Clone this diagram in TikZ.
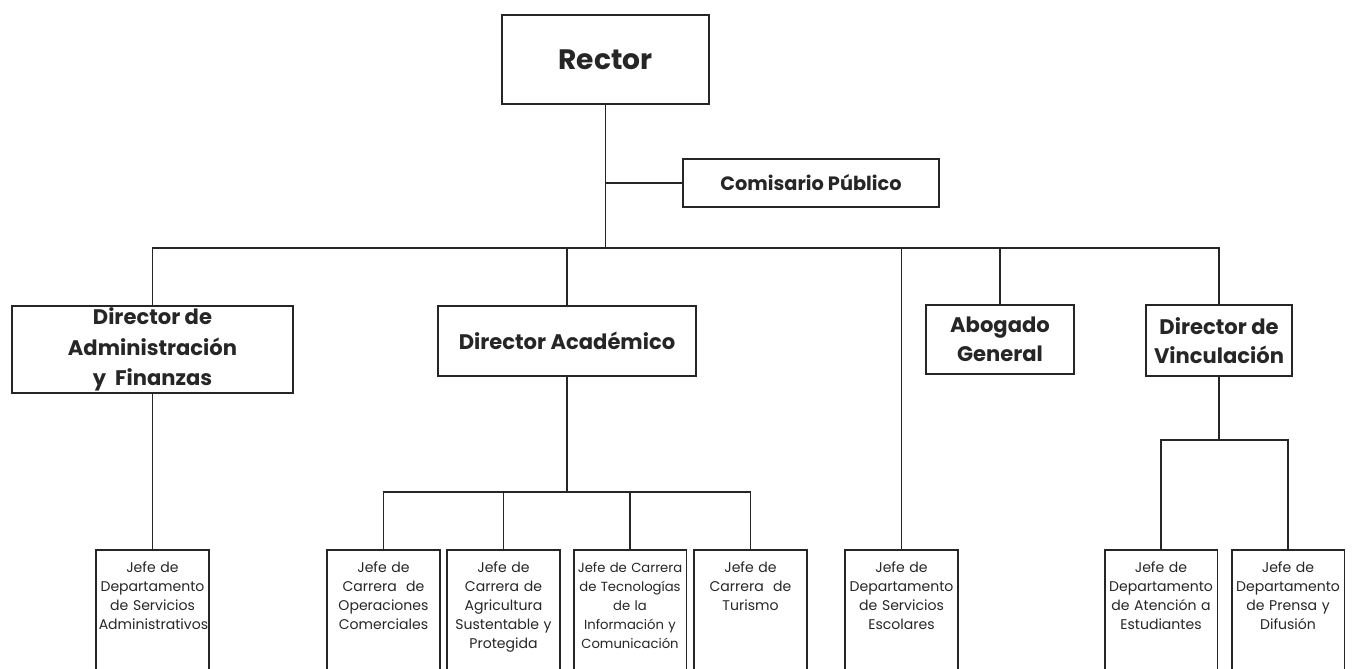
\documentclass[tikz,border=0pt]{standalone}
\usepackage{fontspec}
\setmainfont{Poppins}
\usetikzlibrary{positioning}

\begin{document}
\begin{tikzpicture}[x=0.02cm, y=-0.02cm, line width=1pt, color=black!85,
  box/.style={draw, fill=white, inner sep=1pt, align=center},
  headbox/.style={box, font=\bfseries\fontsize{12}{16.5}\selectfont},
  jefebox/.style={box, anchor=north, inner xsep=1.5pt, inner ysep=7pt,
    text width=2.15cm, text depth=2.5cm, font=\fontsize{8}{10.8}\selectfont}]
  \useasboundingbox (0,0) rectangle (1356,669);
  \clip (0,0) rectangle (1356,669);
  % Rector and Comisario
  \node[headbox, minimum width=4.14cm, minimum height=1.78cm,
    font=\bfseries\fontsize{16}{18}\selectfont] (rector) at (605.5,59.5) {Rector};
  \node[headbox, minimum width=5.12cm, minimum height=0.96cm,
    font=\bfseries\fontsize{11}{13}\selectfont] (comisario) at (811,183) {Comisario Público};
  % Directors
  \node[headbox, minimum width=5.62cm, minimum height=1.7cm,
    font=\bfseries\fontsize{12}{17.5}\selectfont] (dirAdm) at (152.5,349.5)
    {Director de\\Administración\\y\ \ Finanzas};
  \node[headbox, minimum width=5.16cm, minimum height=1.4cm] (dirAca) at (567,341) {Director Académico};
  \node[headbox, minimum width=2.96cm, minimum height=1.38cm] (abogado) at (1000,339.5) {Abogado\\General};
  \node[headbox, minimum width=2.92cm, minimum height=1.42cm] (dirVin) at (1219,340.5) {Director de\\Vinculación};
  % Jefes
  \node[jefebox] (jAdm) at (152.5,549) {Jefe de\\Departamento\\de Servicios\\Administrativos};
  \node[jefebox] (jOpe) at (383.5,549) {Jefe de\\Carrera\ \ de\\Operaciones\\Comerciales};
  \node[jefebox] (jAgr) at (503.5,549) {Jefe de\\Carrera de\\Agricultura\\Sustentable y\\Protegida};
  \node[jefebox, font=\fontsize{7.5}{10.8}\selectfont] (jTec) at (630,549)
    {Jefe de Carrera\\de Tecnologías\\de la\\Información y\\Comunicación};
  \node[jefebox] (jTur) at (750.5,549) {Jefe de\\Carrera\ \ de\\Turismo};
  \node[jefebox] (jEsc) at (901.5,549) {Jefe de\\Departamento\\de Servicios\\Escolares};
  \node[jefebox] (jAte) at (1161,549) {Jefe de\\Departamento\\de Atención a\\Estudiantes};
  \node[jefebox] (jPre) at (1288,549) {Jefe de\\Departamento\\de Prensa y\\Difusión};
  % Bus lines
  \coordinate (bus) at (607,248);
  \coordinate (acaBus) at (567,492);
  \coordinate (vinBus) at (1219,440);
  % Rector branches
  \draw (rector.south) -- (rector.south |- bus);
  \draw (rector.south |- comisario.west) -- (comisario.west);
  \draw (dirAdm.north) -- (dirAdm.north |- bus) -- (dirVin.north |- bus) -- (dirVin.north);
  \foreach \n in {dirAca, abogado, jEsc}
    \draw (\n.north) -- (\n.north |- bus);
  % Administracion
  \draw (dirAdm.south) -- (dirAdm.south |- jAdm.north);
  % Academico
  \draw (dirAca.south) -- (dirAca.south |- acaBus);
  \draw (jOpe.north) -- (jOpe.north |- acaBus) -- (jTur.north |- acaBus) -- (jTur.north);
  \foreach \n in {jAgr, jTec}
    \draw (\n.north) -- (\n.north |- acaBus);
  % Vinculacion
  \draw (dirVin.south) -- (dirVin.south |- vinBus);
  \draw (jAte.north) -- (jAte.north |- vinBus) -- (jPre.north |- vinBus) -- (jPre.north);
\end{tikzpicture}
\end{document}
